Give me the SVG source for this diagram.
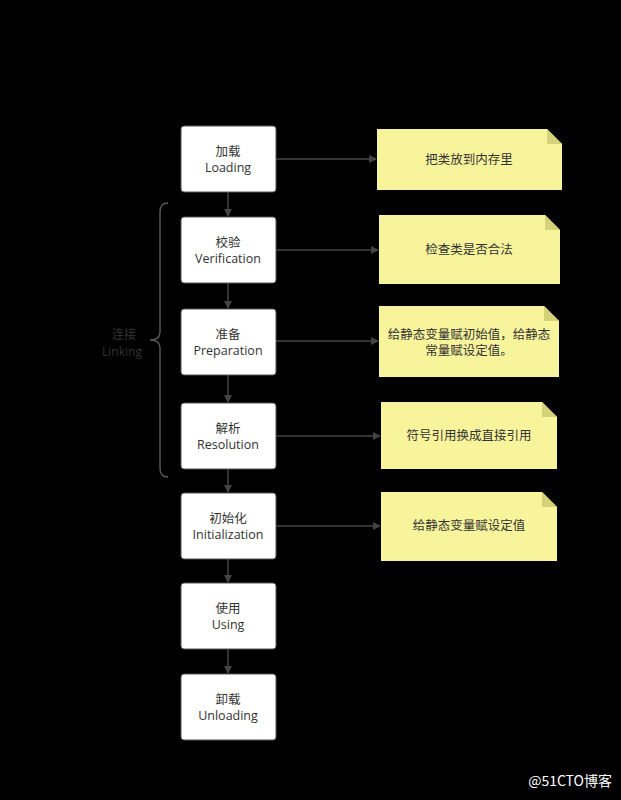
<svg xmlns="http://www.w3.org/2000/svg" width="621" height="800" viewBox="0 0 621 800">
<defs>
<style>
.box rect{fill:#fff;stroke:#555;stroke-width:1}
.t{font-family:"Open Sans","Noto Sans CJK SC",sans-serif;font-size:12.5px;fill:#333;text-anchor:middle}
.s{font-size:12px}
.note path{fill:#f7f49b;stroke:none}
.note .f{fill:#d6d27a}
.c line{stroke:#444;stroke-width:1.5;marker-end:url(#a)}
</style>
<marker id="a" markerWidth="8" markerHeight="8" refX="7" refY="4" orient="auto" markerUnits="userSpaceOnUse"><path d="M0,0 L8,4 L0,8 Z" fill="#444"/></marker>
</defs>
<rect width="621" height="800" fill="#000"/>
<g class="c">
<line x1="228" y1="192" x2="228" y2="216"/>
<line x1="228" y1="283" x2="228" y2="308"/>
<line x1="228" y1="375" x2="228" y2="402"/>
<line x1="228" y1="469" x2="228" y2="492"/>
<line x1="228" y1="559" x2="228" y2="582"/>
<line x1="228" y1="649" x2="228" y2="673"/>
<line x1="276" y1="159" x2="376" y2="159"/>
<line x1="276" y1="250" x2="378" y2="250"/>
<line x1="276" y1="341" x2="378" y2="341"/>
<line x1="276" y1="436" x2="380" y2="436"/>
<line x1="276" y1="526" x2="380" y2="526"/>
</g>
<g id="brace"><path d="M168,203 Q160,203 160,212 L160,332 Q160,340 150,340 Q160,340 160,348 L160,468 Q160,477 168,477" fill="none" stroke="#555" stroke-width="1.5"/>
<text class="t s" x="124" y="339">连接</text><text class="t s" x="122" y="356">Linking</text></g>
<g id="n1" class="box"><rect x="181" y="126" width="95" height="66" rx="3"/><text class="t" x="228" y="156">加载</text><text class="t" x="228" y="172">Loading</text></g>
<g id="n2" class="box"><rect x="181" y="217" width="95" height="66" rx="3"/><text class="t" x="228" y="247">校验</text><text class="t" x="228" y="263">Verification</text></g>
<g id="n3" class="box"><rect x="181" y="309" width="95" height="66" rx="3"/><text class="t" x="228" y="339">准备</text><text class="t" x="228" y="355">Preparation</text></g>
<g id="n4" class="box"><rect x="181" y="403" width="95" height="66" rx="3"/><text class="t" x="228" y="433">解析</text><text class="t" x="228" y="449">Resolution</text></g>
<g id="n5" class="box"><rect x="181" y="493" width="95" height="66" rx="3"/><text class="t" x="228" y="523">初始化</text><text class="t" x="228" y="539">Initialization</text></g>
<g id="n6" class="box"><rect x="181" y="583" width="95" height="66" rx="3"/><text class="t" x="228" y="613">使用</text><text class="t" x="228" y="629">Using</text></g>
<g id="n7" class="box"><rect x="181" y="674" width="95" height="66" rx="3"/><text class="t" x="228" y="704">卸载</text><text class="t" x="228" y="720">Unloading</text></g>
<g id="m1" class="note"><path d="M377,129 H547 L562,144 V190 H377 Z"/><path class="f" d="M547,129 L562,144 H547 Z"/><text class="t" x="469" y="164">把类放到内存里</text></g>
<g id="m2" class="note"><path d="M379,215 H545 L560,230 V284 H379 Z"/><path class="f" d="M545,215 L560,230 H545 Z"/><text class="t" x="469" y="254">检查类是否合法</text></g>
<g id="m3" class="note"><path d="M379,306 H544 L559,321 V377 H379 Z"/><path class="f" d="M544,306 L559,321 H544 Z"/><text class="t" x="469" y="339">给静态变量赋初始值，给静态</text><text class="t" x="469" y="355">常量赋设定值。</text></g>
<g id="m4" class="note"><path d="M381,402 H542 L557,417 V469 H381 Z"/><path class="f" d="M542,402 L557,417 H542 Z"/><text class="t" x="469" y="440">符号引用换成直接引用</text></g>
<g id="m5" class="note"><path d="M381,492 H542 L557,507 V561 H381 Z"/><path class="f" d="M542,492 L557,507 H542 Z"/><text class="t" x="469" y="530">给静态变量赋设定值</text></g>
<text x="612" y="786" font-family="'Noto Sans CJK SC',sans-serif" font-size="14" fill="#fff" text-anchor="end">@51CTO博客</text>
</svg>
